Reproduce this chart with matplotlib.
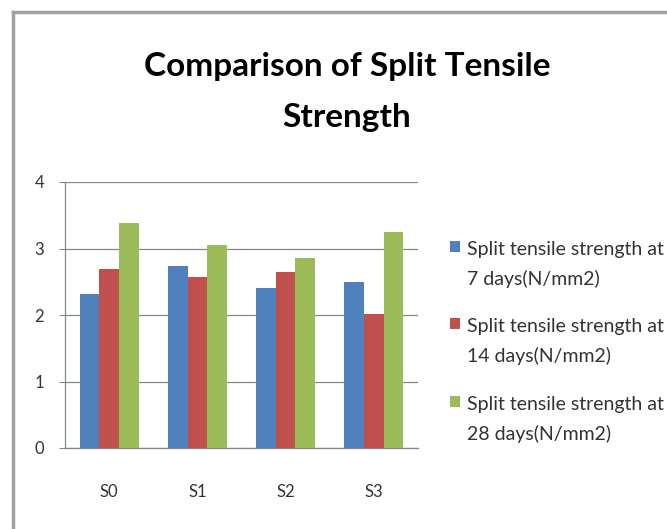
import matplotlib
matplotlib.use("Agg")
import matplotlib.pyplot as plt
import numpy as np
from matplotlib.lines import Line2D
from matplotlib.patches import Patch

samples = ["S0", "S1", "S2", "S3"]
days_7 = [2.32, 2.73, 2.40, 2.50]
days_14 = [2.69, 2.57, 2.65, 2.01]
days_28 = [3.39, 3.06, 2.86, 3.25]
series_labels = ["Split tensile strength at\n7 days(N/mm2)",
                 "Split tensile strength at\n14 days(N/mm2)",
                 "Split tensile strength at\n28 days(N/mm2)"]
colors = ["#4F81BD", "#C0504D", "#9BBB59"]

plt.rcParams['font.family'] = ['Lato', 'DejaVu Sans']

fig = plt.figure(figsize=(6.67, 5.29), dpi=100)
ax = fig.add_axes([65 / 667, 1 - 448 / 529, 353 / 667, 266 / 529])

x = np.arange(len(samples))
width = 0.222
for i, vals in enumerate([days_7, days_14, days_28]):
    ax.bar(x + (i - 1) * width, vals, width, color=colors[i], zorder=3)

ax.set_xlim(-0.5, len(samples) - 0.5)
ax.set_ylim(0, 4)
ax.set_yticks(range(0, 5))
ax.yaxis.grid(color='#868686', linestyle='-', linewidth=0.9, zorder=0)
ax.set_xticks(x)
ax.set_xticklabels(samples)
ax.tick_params(axis='y', length=4, color='#868686', pad=11, labelsize=12, labelcolor='#333333')
ax.tick_params(axis='x', length=0, pad=26, labelsize=12, labelcolor='#333333')
for s in ['top', 'right']:
    ax.spines[s].set_visible(False)
for s in ['left', 'bottom']:
    ax.spines[s].set_color('#868686')
    ax.spines[s].set_linewidth(0.9)

fig.text(347 / 667, 1 - 52 / 529, "Comparison of Split Tensile\nStrength", ha='center', va='top',
         fontsize=24, fontweight='bold', linespacing=1.9, color='black')

handles = [Patch(facecolor=c) for c in colors]
leg = fig.legend(handles, series_labels, loc='upper left', bbox_to_anchor=(450 / 667, 1 - 241 / 529),
                 frameon=False, fontsize=14, handlelength=0.5, handleheight=0.5, handletextpad=0.35,
                 labelspacing=1.55, borderpad=0, borderaxespad=0, labelcolor='#333333')
for t in leg.get_texts():
    t.set_linespacing(1.8)
# put the colour square next to the first line of each label
for col in leg._legend_handle_box.get_children():
    for item in col.get_children():
        item.align = "top"

# outer chart frame (only top and left edges visible)
fig.add_artist(Line2D([13 / 667, 13 / 667], [0, 1 - 12 / 529], transform=fig.transFigure,
                      color='#A0A0A0', linewidth=2.5))
fig.add_artist(Line2D([13 / 667, 1], [1 - 12 / 529, 1 - 12 / 529], transform=fig.transFigure,
                      color='#A0A0A0', linewidth=2.5))

fig.savefig("out.png", dpi=100)
